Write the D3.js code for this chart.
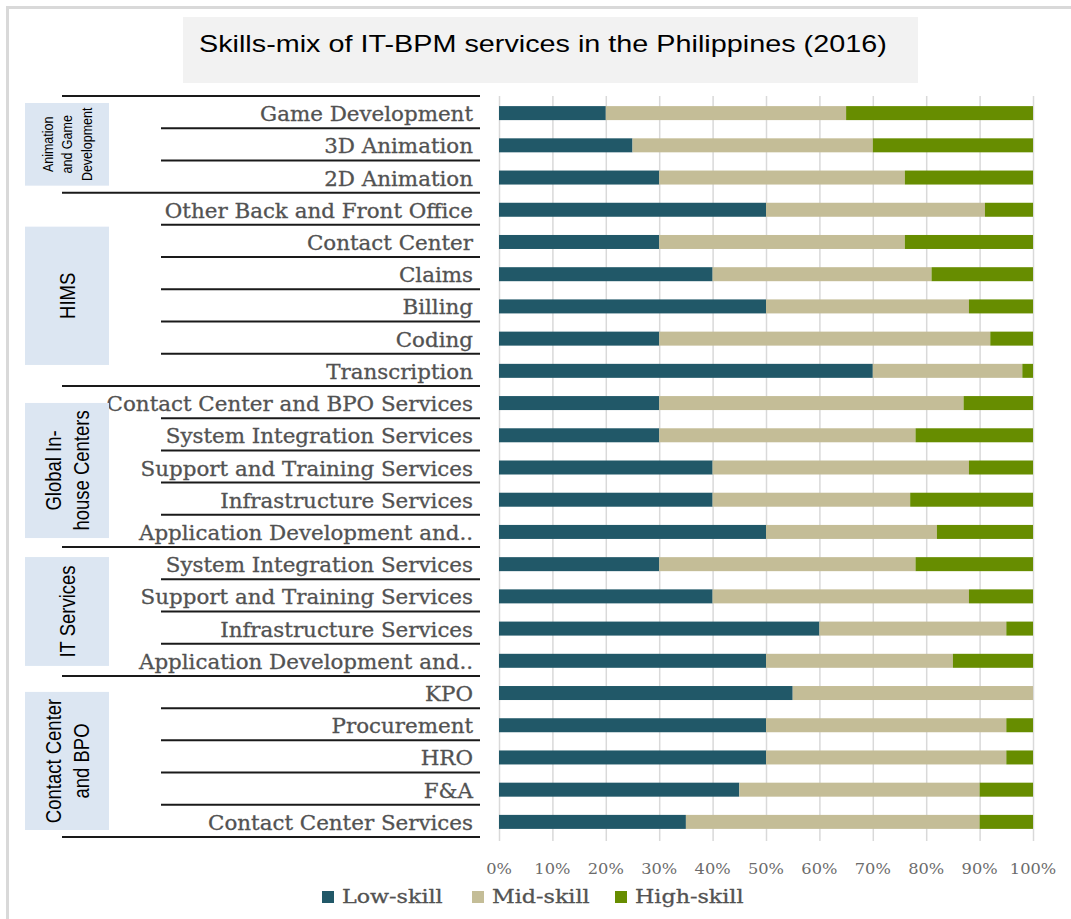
<!DOCTYPE html>
<html>
<head>
<meta charset="utf-8">
<script src="https://cdn.jsdelivr.net/npm/d3@7"></script>
<style>
    body { margin: 0; background: #fff; }
    svg { display: block; }
</style>
</head>
<body>
<svg width="1071" height="919"></svg>
<script>
const width = 1071;
const height = 919;

// chart data, top row first
const services = [
    "Game Development", "3D Animation", "2D Animation",
    "Other Back and Front Office", "Contact Center", "Claims", "Billing", "Coding", "Transcription",
    "Contact Center and BPO Services", "System Integration Services", "Support and Training Services",
    "Infrastructure Services", "Application Development and..",
    "System Integration Services", "Support and Training Services", "Infrastructure Services",
    "Application Development and..",
    "KPO", "Procurement", "HRO", "F&A", "Contact Center Services",
];
const lowSkill = [20, 25, 30, 50, 30, 40, 50, 30, 70, 30, 30, 40, 40, 50, 30, 40, 60, 50, 55, 50, 50, 45, 35];
const midSkill = [45, 45, 46, 41, 46, 41, 38, 62, 28, 57, 48, 48, 37, 32, 48, 48, 35, 35, 45, 45, 45, 45, 55];
const highSkill = [35, 30, 24, 9, 24, 19, 12, 8, 2, 13, 22, 12, 23, 18, 22, 12, 5, 15, 0, 5, 5, 10, 10];

const groupNames = [
    ["Animation", "and Game", "Development"],
    ["HIMS"],
    ["Global In-", "house Centers"],
    ["IT Services"],
    ["Contact Center", "and BPO"],
];
const groupSizes = [3, 6, 5, 4, 5];

const skillKeys = ["Low-skill", "Mid-skill", "High-skill"];
const tickValues = [0, 0.1, 0.2, 0.3, 0.4, 0.5, 0.6, 0.7, 0.8, 0.9, 1];
const titleText = "Skills-mix of IT-BPM services in the Philippines (2016)";

// layout / style
const plot = { left: 499, right: 1033, top: 96, bottom: 837 };
const colors = ["#215868", "#c4bd97", "#678d00"];
const serif = "'DejaVu Serif', serif";
const sans = "'Liberation Sans', Arial, sans-serif";
const labelGray = "#525252";
// decorative box insets (top, bottom) inside each group
const boxInsets = [[7, 7], [34, 21], [17, 9], [10, 10], [16, 7]];
const groupFont = [12.5, 18.5, 18.5, 18.5, 18.5];

const svg = d3.select("svg");

// outer frame
svg.append("rect")
    .attr("x", 7.5).attr("y", 7.5)
    .attr("width", 1070).attr("height", 920)
    .attr("fill", "#fff")
    .attr("stroke", "#d9d9d9")
    .attr("stroke-width", 3);

// title box
svg.append("rect")
    .attr("x", 183).attr("y", 17)
    .attr("width", 735).attr("height", 66)
    .attr("fill", "#f2f2f2");

const title = svg.append("text")
    .attr("font-family", sans)
    .attr("font-size", 23)
    .attr("fill", "#000")
    .text(titleText);
{
    const w = title.node().getComputedTextLength();
    title.attr("transform", `translate(199, 52) scale(${688 / w}, 1)`);
}

// data table
const rows = services.map((s, i) => ({
    name: s,
    idx: i,
    "Low-skill": lowSkill[i],
    "Mid-skill": midSkill[i],
    "High-skill": highSkill[i],
}));

const series = d3.stack().keys(skillKeys).offset(d3.stackOffsetExpand)(rows);

const x = d3.scaleLinear().domain([0, 1]).range([plot.left, plot.right]);
const rowStep = (plot.bottom - plot.top) / services.length;
const rowCenter = (i) => plot.top + rowStep * (i + 0.5);

// gridlines
svg.append("g")
    .attr("transform", `translate(0, ${plot.bottom + 4})`)
    .call(d3.axisBottom(x).tickValues(tickValues).tickSize(-(plot.bottom + 4 - plot.top)).tickFormat(""))
    .call((g) => g.select(".domain").remove())
    .call((g) => g.selectAll(".tick line").attr("stroke", "#d9d9d9").attr("stroke-width", 1.5));

// tick labels
svg.append("g")
    .selectAll("text")
    .data(tickValues)
    .join("text")
    .attr("transform", (d) => `translate(${x(d)}, 874) scale(1.12, 1)`)
    .attr("text-anchor", "middle")
    .attr("font-family", serif)
    .attr("font-size", 14.5)
    .attr("fill", "#6b6b6b")
    .text(d3.format(".0%"));

// bars
svg.append("g")
    .selectAll("g")
    .data(series)
    .join("g")
    .attr("fill", (d, i) => colors[i])
    .selectAll("rect")
    .data((d) => d)
    .join("rect")
    .attr("x", (d) => x(d[0]))
    .attr("width", (d) => x(d[1]) - x(d[0]))
    .attr("y", (d) => rowCenter(d.data.idx) - 7 + 1)
    .attr("height", 14);

// row labels
svg.append("g")
    .selectAll("text")
    .data(rows)
    .join("text")
    .attr("transform", (d) => `translate(473, ${rowCenter(d.idx) + 9}) scale(1.07, 1)`)
    .attr("text-anchor", "end")
    .attr("font-family", serif)
    .attr("font-size", 20)
    .attr("fill", labelGray)
    .attr("stroke", labelGray)
    .attr("stroke-width", 0.3)
    .text((d) => d.name);

// separator lines
const groupStarts = groupSizes.map((n, i) => d3.sum(groupSizes.slice(0, i)));
const longLines = new Set([...groupStarts, services.length]);
svg.append("g")
    .selectAll("line")
    .data(d3.range(services.length + 1))
    .join("line")
    .attr("x1", (d) => longLines.has(d) ? 62 : 161)
    .attr("x2", 480)
    .attr("y1", (d) => plot.top + rowStep * d)
    .attr("y2", (d) => plot.top + rowStep * d)
    .attr("stroke", "#1a1a1a")
    .attr("stroke-width", 2);

// group boxes and names
const groups = groupNames.map((lines, i) => {
    const top = plot.top + rowStep * groupStarts[i];
    const bottom = top + rowStep * groupSizes[i];
    return {
        lines: lines,
        y0: top + boxInsets[i][0],
        y1: bottom - boxInsets[i][1],
        font: groupFont[i],
    };
});

const gg = svg.append("g").selectAll("g").data(groups).join("g");

gg.append("rect")
    .attr("x", 25)
    .attr("width", 84)
    .attr("y", (d) => d.y0)
    .attr("height", (d) => d.y1 - d.y0)
    .attr("fill", "#dce6f2");

gg.each(function (d) {
    const cy = (d.y0 + d.y1) / 2;
    const lineGap = d.font * 1.28;
    const n = d.lines.length;
    const t = d3.select(this).append("g")
        .attr("transform", `translate(67, ${cy}) scale(1.2, 1) rotate(-90)`);
    t.selectAll("text")
        .data(d.lines)
        .join("text")
        .attr("x", 0)
        .attr("y", (l, j) => (j - (n - 1) / 2) * lineGap + d.font * 0.36)
        .attr("text-anchor", "middle")
        .attr("font-family", sans)
        .attr("font-size", d.font)
        .attr("fill", "#000")
        .text((l) => l);
});

// legend
const legendX = [322, 472, 615];
const legend = svg.append("g")
    .selectAll("g")
    .data(skillKeys)
    .join("g")
    .attr("transform", (d, i) => `translate(${legendX[i]}, 891)`);

legend.append("rect")
    .attr("width", 12)
    .attr("height", 12)
    .attr("fill", (d, i) => colors[i]);

legend.append("text")
    .attr("transform", "translate(20, 12) scale(1.2, 1)")
    .attr("font-family", serif)
    .attr("font-size", 18.5)
    .attr("fill", labelGray)
    .attr("stroke", labelGray)
    .attr("stroke-width", 0.3)
    .text((d) => d);
</script>
</body>
</html>
